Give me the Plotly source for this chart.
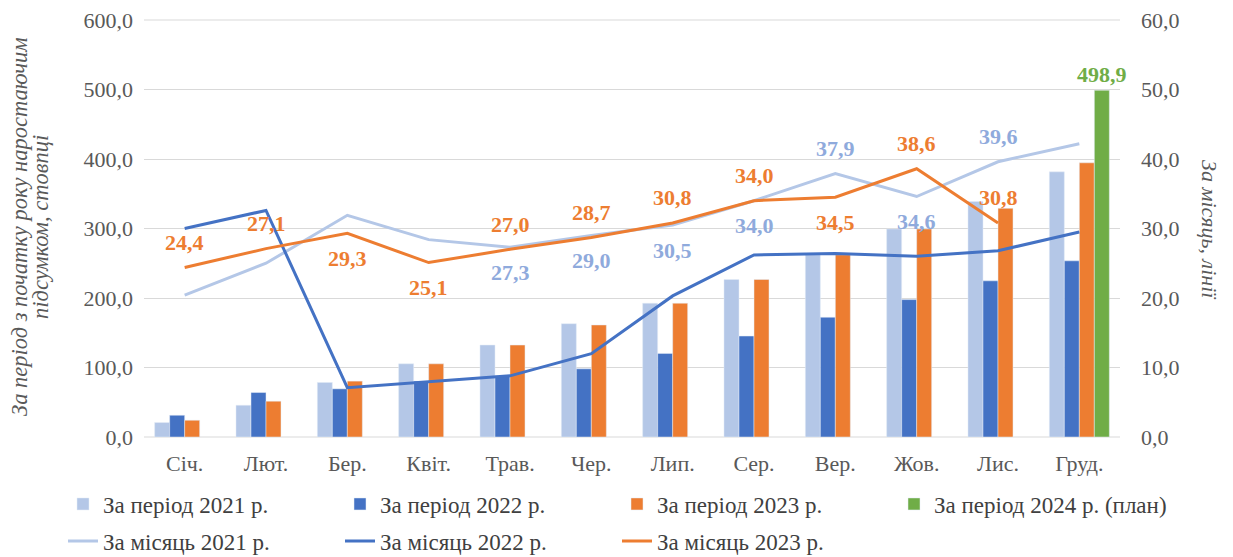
import plotly.graph_objects as go

months = ["Січ.", "Лют.", "Бер.", "Квіт.", "Трав.", "Чер.", "Лип.", "Сер.", "Вер.", "Жов.", "Лис.", "Груд."]

# cumulative (bars, left axis)
cum_2021 = [20.8, 45.7, 78.5, 105.3, 132.3, 163.0, 192.5, 226.6, 262.2, 299.3, 339.0, 381.5]
cum_2022 = [31.3, 64.0, 69.3, 80.4, 88.0, 98.1, 120.3, 145.3, 172.3, 197.7, 224.7, 253.5]
cum_2023 = [24.1, 51.5, 80.4, 105.3, 132.3, 161.2, 192.5, 226.6, 262.2, 299.3, 329.0, 394.5]
cum_2024 = [None] * 11 + [498.9]

# monthly (lines, right axis)
mon_2021 = [20.4, 25.0, 31.9, 28.4, 27.3, 29.0, 30.5, 34.0, 37.9, 34.6, 39.6, 42.2]
mon_2022 = [30.0, 32.6, 7.1, 8.0, 8.8, 12.0, 20.3, 26.2, 26.4, 26.0, 26.8, 29.5]
mon_2023 = [24.4, 27.1, 29.3, 25.1, 27.0, 28.7, 30.8, 34.0, 34.5, 38.6, 30.8, None]

# label placement (style): which points are labelled and above/below
lbl_2021 = [None, None, None, None, "b", "b", "b", "b", "a", "b", "a", None]
lbl_2023 = ["a", "a", "b", "b", "a", "a", "a", "a", "b", "a", "a", None]

C_LIGHT = "#b4c7e7"
C_DARK = "#4472c4"
C_OR = "#ed7d31"
C_GREEN = "#70ad47"
C_LIGHT_LBL = "#8faadc"
FONT = "Liberation Serif, DejaVu Serif, serif"
GRAY = "#595959"
GRID = "#d9d9d9"

# page body has an 8px default margin; the figure is sized so it fits the window
W, H = 1225, 549
L, T, PW, PH = 136, 12, 976, 417

fig = go.Figure()

fig.add_bar(x=months, y=cum_2021, name="За період 2021 р.", marker_color=C_LIGHT, legend="legend")
fig.add_bar(x=months, y=cum_2022, name="За період 2022 р.", marker_color=C_DARK, legend="legend")
fig.add_bar(x=months, y=cum_2023, name="За період 2023 р.", marker_color=C_OR, legend="legend")
fig.add_bar(x=months, y=cum_2024, name="За період 2024 р. (план)", marker_color=C_GREEN, legend="legend3",
            texttemplate="<b>%{y:.1f}</b>", textposition="outside", constraintext="none", cliponaxis=False,
            textfont=dict(family=FONT, size=22, color=C_GREEN))

fig.add_scatter(x=months, y=mon_2021, name="За місяць 2021 р.", mode="lines", yaxis="y2",
                line=dict(color=C_LIGHT, width=3), legend="legend2")
fig.add_scatter(x=months, y=mon_2022, name="За місяць 2022 р.", mode="lines", yaxis="y2",
                line=dict(color=C_DARK, width=3), legend="legend2")
fig.add_scatter(x=months, y=mon_2023, name="За місяць 2023 р.", mode="lines", yaxis="y2",
                line=dict(color=C_OR, width=3), legend="legend2")

annotations = []
def add_labels(values, where, color):
    for m, v, w in zip(months, values, where):
        if w is None or v is None:
            continue
        annotations.append(dict(
            x=m, y=v, xref="x", yref="y2", text=f"<b>{v:.1f}</b>".replace(".", ","),
            showarrow=False, yshift=25 if w == "a" else -25,
            font=dict(family=FONT, size=22, color=color)))

add_labels(mon_2021, lbl_2021, C_LIGHT_LBL)
add_labels(mon_2023, lbl_2023, C_OR)

def px_x(px):
    return (px - 8 - L) / PW

def px_y(py):
    return 1 - (py - 8 - T) / PH

title_font = dict(family=FONT, size=22.5, color=GRAY)
annotations.append(dict(
    x=px_x(19), y=px_y(227), xref="paper", yref="paper", textangle=-90, showarrow=False,
    xanchor="center", yanchor="middle",
    text="<i>За період з початку року наростаючим</i>", font=title_font))
annotations.append(dict(
    x=px_x(40), y=px_y(227), xref="paper", yref="paper", textangle=-90, showarrow=False,
    xanchor="center", yanchor="middle",
    text="<i>підсумком, стовпці</i>", font=title_font))
annotations.append(dict(
    x=px_x(1210), y=px_y(230), xref="paper", yref="paper", textangle=90, showarrow=False,
    xanchor="center", yanchor="middle",
    text="<i>За місяць, лінії</i>", font=dict(family=FONT, size=22, color=GRAY)))

leg_common = dict(orientation="h", xanchor="left", yanchor="middle",
                  entrywidth=232, entrywidthmode="pixels", traceorder="normal",
                  font=dict(family=FONT, size=23, color="#404040"), bgcolor="rgba(0,0,0,0)")

LEG_X = px_x(63)

fig.update_layout(
    width=W, height=H,
    margin=dict(l=L, r=W - L - PW, t=T, b=H - T - PH, autoexpand=False),
    paper_bgcolor="white", plot_bgcolor="white",
    separators=", ",
    barmode="group", bargap=0.262, bargroupgap=0,
    font=dict(family=FONT, size=22, color=GRAY),
    xaxis=dict(showgrid=False, showline=False, zeroline=False, ticks="",
               tickfont=dict(family=FONT, size=22, color=GRAY), ticklabelstandoff=11),
    yaxis=dict(range=[0, 600], dtick=100, tickformat=".1f", showgrid=True, gridcolor=GRID,
               gridwidth=1, zeroline=False, showline=False, ticks="", ticklabeloverflow="allow",
               tickfont=dict(family=FONT, size=22, color=GRAY), ticklabelstandoff=10),
    yaxis2=dict(range=[0, 60], dtick=10, tickformat=".1f", overlaying="y", side="right",
                showgrid=False, zeroline=False, showline=False, ticks="", ticklabeloverflow="allow",
                tickfont=dict(family=FONT, size=22, color=GRAY), ticklabelstandoff=20),
    legend=dict(x=LEG_X, y=px_y(504), **leg_common),
    legend3=dict(x=LEG_X + 3 * 277 / PW, y=px_y(504), **leg_common),
    legend2=dict(x=LEG_X, y=px_y(541), **leg_common),
    annotations=annotations,
    shapes=[
        dict(type="line", xref="paper", yref="paper", x0=0, x1=1, y0=1, y1=1,
             line=dict(color=GRID, width=1), layer="below"),
        dict(type="line", xref="paper", yref="paper", x0=0, x1=1, y0=0, y1=0,
             line=dict(color=GRID, width=1), layer="below"),
    ],
    showlegend=True,
)

fig.write_html("out.html")
